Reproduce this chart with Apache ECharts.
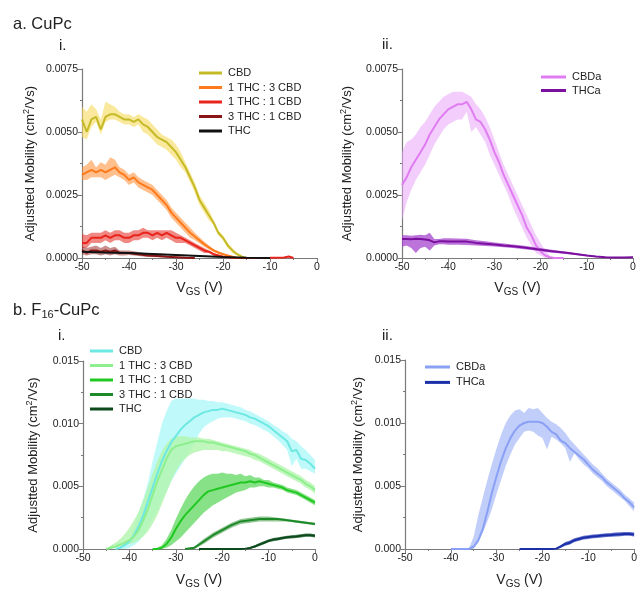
<!DOCTYPE html>
<html><head><meta charset="utf-8">
<script src="https://cdn.jsdelivr.net/npm/echarts@6/dist/echarts.min.js"></script>
<style>html,body{margin:0;padding:0;background:#fff}#c{width:640px;height:591px}</style>
</head><body><div id="c"></div>
<script>
// ---------- Panel a.i (CuPc) ----------
const A1_CBD_X = [-50,-49,-48,-47,-46,-45,-44,-43,-42,-41,-40,-39,-38,-37,-36,-35,-34,-33,-32,-31,-30,-29,-28,-27,-26,-25,-24,-23,-22,-21,-20,-19,-18,-17,-16,-15];
const A1_CBD_M = [.0055,.0050,.0055,.0056,.0051,.0056,.0057,.0057,.0056,.0055,.0055,.0054,.0055,.0053,.0052,.0050,.0048,.0047,.0046,.0044,.0042,.0039,.0036,.0032,.0028,.0023,.0020,.0017,.0014,.0010,.0008,.0005,.0003,.00015,.00005,0];
const A1_CBD_HI = [.0060,.0058,.0061,.0059,.0055,.0062,.0061,.0060,.0058,.0057,.0057,.0056,.0057,.0056,.0055,.0053,.0051,.0049,.0048,.0047,.0045,.0042,.0038,.0034,.0030,.0025,.0022,.0019,.0015,.0011,.0009,.0006,.0004,.0002,.0001,0];
const A1_CBD_LO = [.0048,.0047,.0052,.0054,.0049,.0054,.0055,.0055,.0054,.0053,.0053,.0052,.0053,.0050,.0049,.0047,.0045,.0044,.0043,.0041,.0039,.0036,.0034,.0030,.0026,.0021,.0018,.0015,.0013,.0009,.0007,.0004,.0002,.0001,0,0];

const A1_13_X = [-50,-49,-48,-47,-46,-45,-44,-43,-42,-41,-40,-39,-38,-37,-36,-35,-34,-33,-32,-31,-30,-29,-28,-27,-26,-25,-24,-23,-22,-21,-20,-19,-18,-17];
const A1_13_M = [.0033,.0034,.0035,.0034,.0035,.0034,.0035,.0036,.0034,.0033,.0031,.0032,.0030,.0029,.0028,.0027,.0025,.0023,.0021,.0018,.0016,.0014,.0012,.0010,.00085,.0007,.00055,.00042,.0003,.00022,.00015,.0001,.00005,0];
const A1_13_HI = [.0036,.0037,.0039,.0036,.0038,.0037,.0040,.0039,.0036,.0035,.0033,.0034,.0032,.0031,.0030,.0029,.0027,.0025,.0023,.0020,.0018,.0016,.0014,.0012,.0010,.00082,.00065,.0005,.00036,.00027,.00019,.00013,.00007,0];
const A1_13_LO = [.0031,.0031,.0032,.0032,.0032,.0031,.0032,.0033,.0032,.0031,.0029,.0030,.0028,.0027,.0026,.0025,.0023,.0021,.0019,.0016,.0014,.0012,.0010,.0008,.0007,.00058,.00045,.00034,.00024,.00017,.00011,.00007,.00003,0];

const A1_11_X = [-50,-49,-48,-47,-46,-45,-44,-43,-42,-41,-40,-39,-38,-37,-36,-35,-34,-33,-32,-31,-30,-29,-28,-27,-26,-25,-24,-23,-22,-21,-20,-19,-18,-17,-14,-10,-7,-6,-5];
const A1_11_M = [.0006,.0006,.0008,.0008,.0008,.0009,.0008,.0009,.0009,.0008,.0008,.0009,.0009,.0010,.0010,.0009,.0010,.0009,.0010,.0009,.0008,.0008,.0007,.0006,.0005,.0004,.0003,.00025,.00015,.0001,.00005,.00003,.00001,0,0,.00001,.00002,.00006,0];
const A1_11_HI = [.00095,.0009,.0010,.0010,.0010,.0011,.0010,.0011,.0011,.0010,.0010,.0011,.0011,.0012,.0011,.0011,.0011,.0011,.0011,.0011,.0010,.0009,.0008,.0007,.0006,.0005,.0004,.0003,.0002,.00014,.00008,.00005,.00002,0,0,.00002,.00003,.00008,0];
const A1_11_LO = [.0004,.0004,.0006,.0006,.0006,.0007,.0006,.0007,.0007,.0006,.0006,.0007,.0007,.0008,.0008,.0007,.0008,.0007,.0008,.0007,.0006,.0006,.0006,.0005,.0004,.0003,.0002,.0002,.0001,.00006,.00002,.00001,0,0,0,0,.00001,.00004,0];

const A1_31_X = [-50,-49,-48,-47,-46,-45,-44,-43,-42,-41,-40,-38,-36,-34,-32,-30,-28,-26];
const A1_31_M = [.0003,.0002,.0003,.0003,.00025,.0003,.00025,.0003,.0002,.0002,.0002,.00015,.0001,.00008,.00005,.00003,.00001,0];
const A1_31_HI = [.00045,.0004,.00045,.0005,.0004,.0005,.0004,.00045,.0003,.0003,.0003,.00024,.00017,.00013,.00009,.00006,.00003,0];
const A1_31_LO = [.00015,.0001,.00015,.00015,.0001,.00015,.0001,.00015,.0001,.0001,.00012,.00008,.00004,.00003,.00002,.00001,0,0];

const A1_THC_X = [-50,-45,-40,-35,-30,-25,-20,-15,-10];
const A1_THC_M = [.00025,.00022,.0002,.00016,.00012,.00008,.00004,.00001,0];
const A1_THC_HI = [.00028,.00025,.00023,.00019,.00014,.0001,.00006,.00002,0];
const A1_THC_LO = [.00022,.00019,.00017,.00013,.0001,.00006,.00002,0,0];

// ---------- Panel a.ii ----------
const A2_CBDA_X = [-50,-49,-48,-47,-46,-45,-44,-43,-42,-41,-40,-39,-38,-37,-36,-35,-34,-33,-32,-31,-30,-29,-28,-27,-26,-25,-24,-23,-22,-21,-20,-19,-18,-17,-16,-15];
const A2_CBDA_M = [.0029,.0032,.0036,.0039,.0042,.0045,.0049,.0052,.0055,.0057,.0059,.0060,.0061,.0061,.0062,.0059,.0055,.0054,.0051,.0047,.0042,.0038,.0033,.0029,.0025,.0021,.0017,.0012,.0009,.0005,.00026,.0001,.00003,0,0,0];
const A2_CBDA_HI = [.0042,.0046,.0047,.0049,.0052,.0054,.0057,.0060,.0062,.0064,.0065,.0066,.0066,.0066,.0065,.0064,.0061,.0059,.0056,.0052,.0047,.0042,.0037,.0033,.0029,.0025,.0021,.0017,.0013,.0009,.0006,.0003,.0001,0,0,0];
const A2_CBDA_LO = [.0015,.0022,.0027,.0031,.0034,.0037,.0041,.0045,.0048,.0051,.0053,.0054,.0055,.0055,.0058,.0050,.0052,.0049,.0046,.0041,.0037,.0033,.0029,.0025,.0020,.0016,.0012,.0008,.0005,.0002,.0001,0,0,0,0,0];

const A2_THCA_X = [-50,-49,-48,-47,-46,-45,-44,-43,-42,-41,-40,-38,-36,-34,-32,-30,-28,-26,-24,-22,-20,-18,-16,-14,-12,-10,-8,-6,-4,-2,0];
const A2_THCA_M = [.00075,.00075,.00074,.00076,.00075,.00073,.0007,.00062,.00066,.00066,.00065,.00065,.00065,.0006,.00057,.00054,.0005,.00047,.00043,.00038,.00033,.00028,.00024,.0002,.00015,.0001,.00006,.00003,.00002,.00002,.00003];
const A2_THCA_HI = [.0009,.0009,.00088,.0009,.00092,.0009,.001,.00075,.00075,.00078,.00078,.00077,.00076,.0007,.00066,.00062,.00058,.00054,.0005,.00045,.0004,.00034,.00029,.00024,.00018,.00013,.00008,.00005,.00003,.00003,.00005];
const A2_THCA_LO = [.00045,.0005,.0004,.0002,.0004,.00045,.0003,.0005,.00055,.00055,.00053,.00053,.00052,.0005,.00048,.00046,.00043,.0004,.00036,.00032,.00027,.00022,.00019,.00015,.00011,.00007,.00003,.00001,0,0,.00001];

// ---------- Panel b.i (F16-CuPc) ----------
const B1_CBD_X = [-43,-42,-41,-40,-39,-38,-37,-36,-35,-34,-33,-32,-31,-30,-29,-28,-27,-26,-25,-24,-23,-22,-21,-20,-19,-18,-17,-16,-15,-14,-13,-12,-11,-10,-9,-8,-7,-6,-5,-4,-3,-2,-1,0];
const B1_CBD_M = [0,.0001,.0003,.0006,.0011,.0018,.0027,.0038,.0049,.0060,.0070,.0078,.0085,.0090,.0095,.0099,.0102,.0105,.0107,.0109,.0110,.0111,.0111,.0112,.0111,.0110,.0109,.0108,.0107,.0105,.0104,.0102,.0100,.0098,.0095,.0092,.0089,.0086,.0078,.0079,.0072,.0071,.0068,.0064];
const B1_CBD_HI = [0,.0002,.0004,.0008,.0017,.0029,.0040,.0053,.0070,.0085,.0100,.0110,.0118,.0120,.0120,.0120,.0120,.0120,.0119,.0119,.0118,.0118,.0117,.0117,.0116,.0115,.0114,.0113,.0111,.0110,.0108,.0106,.0104,.0102,.0099,.0097,.0094,.0092,.0088,.0086,.0082,.0079,.0075,.0071];
const B1_CBD_LO = [0,0,0,.0001,.0003,.0006,.0011,.0017,.0024,.0031,.0039,.0046,.0054,.0060,.0066,.0072,.0078,.0084,.0092,.0097,.0100,.0102,.0104,.0105,.0105,.0105,.0104,.0103,.0102,.0100,.0099,.0097,.0095,.0093,.0090,.0087,.0083,.0079,.0066,.0072,.0064,.0064,.0062,.0060];

const B1_13_X = [-45,-44,-43,-42,-41,-40,-39,-38,-37,-36,-35,-34,-33,-32,-31,-30,-29,-28,-27,-26,-25,-24,-23,-22,-21,-20,-19,-18,-17,-16,-15,-14,-13,-12,-11,-10,-9,-8,-7,-6,-5,-4,-3,-2,-1,0];
const B1_13_M = [0,.0001,.0002,.00035,.0005,.0007,.0010,.0015,.0023,.0032,.0043,.0054,.0063,.0072,.0079,.0082,.0083,.0084,.0085,.0086,.0086,.0086,.0085,.0085,.0084,.0083,.0082,.0081,.0080,.0079,.0078,.0076,.0075,.0073,.0071,.0069,.0067,.0065,.0063,.0061,.0059,.0057,.0055,.0052,.0050,.0047];
const B1_13_HI = [0,.0003,.0005,.0008,.0012,.0017,.0023,.0030,.0039,.0049,.0060,.0070,.0078,.0084,.0088,.0090,.0090,.0090,.0089,.0089,.0089,.0088,.0088,.0087,.0086,.0085,.0084,.0083,.0082,.0081,.0080,.0079,.0077,.0076,.0074,.0072,.0070,.0068,.0066,.0064,.0062,.0060,.0058,.0055,.0053,.0050];
const B1_13_LO = [0,0,.0001,.0002,.0003,.0004,.0005,.0007,.0010,.0014,.0020,.0027,.0036,.0045,.0054,.0062,.0068,.0072,.0075,.0077,.0078,.0079,.0079,.0079,.0079,.0078,.0078,.0077,.0076,.0075,.0074,.0073,.0071,.0070,.0068,.0066,.0064,.0062,.0060,.0058,.0056,.0054,.0052,.0049,.0047,.0044];

const B1_11_X = [-35,-34,-33,-32,-31,-30,-29,-28,-27,-26,-25,-24,-23,-22,-21,-20,-19,-18,-17,-16,-15,-14,-13,-12,-11,-10,-9,-8,-7,-6,-5,-4,-3,-2,-1,0];
const B1_11_M = [0,0,.0001,.0004,.0009,.0016,.0022,.0027,.0031,.0035,.0039,.0043,.0046,.0047,.0048,.0049,.0050,.0051,.0052,.0053,.0053,.0054,.0053,.0054,.0053,.0052,.0051,.0050,.0049,.0047,.0046,.0045,.0043,.0041,.0039,.0037];
const B1_11_HI = [0,.0001,.0003,.0008,.0015,.0024,.0032,.0039,.0045,.0050,.0054,.0057,.0059,.0060,.0060,.0061,.0060,.0060,.0059,.0060,.0058,.0059,.0057,.0057,.0055,.0055,.0053,.0052,.0051,.0049,.0048,.0047,.0045,.0043,.0041,.0039];
const B1_11_LO = [0,0,0,.0001,.0003,.0006,.0009,.0013,.0017,.0021,.0025,.0029,.0032,.0035,.0037,.0039,.0041,.0043,.0045,.0046,.0047,.0049,.0049,.0050,.0050,.0049,.0049,.0048,.0047,.0045,.0044,.0043,.0041,.0039,.0037,.0035];

const B1_31_X = [-28,-26,-24,-22,-20,-18,-16,-14,-12,-10,-8,-6,-4,-2,0];
const B1_31_M = [0,.0001,.0006,.0011,.0015,.0019,.0022,.0023,.0024,.0024,.0024,.0023,.0022,.0021,.0020];
const B1_31_HI = [0,.0002,.0008,.0013,.0017,.0021,.0024,.0025,.0026,.0026,.0025,.0024,.0023,.0022,.0021];
const B1_31_LO = [0,0,.0004,.0009,.0013,.0017,.0020,.0021,.0022,.0022,.0022,.0022,.0021,.0020,.0019];

const B1_THC_X = [-25,-20,-16,-15,-14,-13,-12,-11,-10,-9,-8,-7,-6,-5,-4,-3,-2,-1,0];
const B1_THC_M = [0,0,0,.00003,.00008,.0002,.00035,.0005,.00065,.00075,.0008,.00088,.00093,.00097,.001,.00105,.0011,.0011,.00105];
const B1_THC_HI = [0,0,0,.00006,.00015,.0003,.00047,.00062,.00077,.00088,.00093,.001,.00105,.0011,.00113,.00118,.00123,.00123,.00118];
const B1_THC_LO = [0,0,0,0,.00003,.0001,.00023,.00038,.00053,.00062,.00067,.00076,.00081,.00084,.00087,.00092,.00097,.00097,.00092];

// ---------- Panel b.ii ----------
const B2_CBDA_X = [-40,-37,-36,-35,-34,-33,-32,-31,-30,-29,-28,-27,-26,-25,-24,-23,-22,-21,-20,-19,-18,-17,-16,-15,-14,-13,-12,-11,-10,-9,-8,-7,-6,-5,-4,-3,-2,-1,0];
const B2_CBDA_M = [0,0,0,.0002,.0007,.0016,.0030,.0045,.0058,.0070,.0080,.0088,.0094,.0098,.0100,.0101,.0101,.0101,.0100,.0097,.0093,.0091,.0086,.0084,.0080,.0077,.0074,.0071,.0067,.0063,.0060,.0057,.0053,.0050,.0047,.0044,.0040,.0037,.0033];
const B2_CBDA_HI = [0,0,.0001,.0010,.0027,.0041,.0055,.0068,.0080,.0091,.0100,.0106,.0110,.0111,.0108,.0112,.0111,.0112,.0108,.0104,.0101,.0099,.0096,.0092,.0087,.0083,.0079,.0075,.0071,.0067,.0064,.0060,.0056,.0053,.0050,.0047,.0043,.0040,.0037];
const B2_CBDA_LO = [0,0,0,0,.0005,.0013,.0022,.0032,.0044,.0055,.0066,.0075,.0083,.0088,.0093,.0094,.0093,.0090,.0088,.0079,.0089,.0087,.0084,.0080,.0069,.0076,.0071,.0067,.0064,.0060,.0057,.0054,.0050,.0047,.0044,.0041,.0038,.0034,.0030];

const B2_THCA_X = [-25,-18,-17,-16,-15,-14,-13,-12,-11,-10,-9,-8,-7,-6,-5,-4,-3,-2,-1,0];
const B2_THCA_M = [0,0,.00003,.0002,.0004,.0005,.0007,.0008,.0009,.00095,.001,.00103,.00107,.0011,.00112,.00115,.00117,.0012,.0012,.00115];
const B2_THCA_HI = [0,0,.00006,.0003,.00055,.00068,.00085,.00096,.00105,.0011,.00115,.00118,.00122,.00125,.00127,.0013,.00132,.00134,.00134,.0013];
const B2_THCA_LO = [0,0,0,.0001,.00025,.00035,.00055,.00065,.00075,.0008,.00085,.00088,.00092,.00095,.00097,.001,.00102,.00105,.00105,.001];

// axis ticks
const X_MIN = -50, X_MAX = 0, X_STEP = 10;
const YA_MAX = 0.0075, YA_STEP = 0.0025;
const YB_MAX = 0.015, YB_STEP = 0.005;

const FONT = '"Liberation Sans", Arial, Helvetica, sans-serif';
const AX = '#7a7a7a';

// series definitions: [panel, legend name, x, mean, lo, hi, line color, band color]
const SERIES = [
  [0,'CBD',A1_CBD_X,A1_CBD_M,A1_CBD_LO,A1_CBD_HI,'#c4ba26','rgba(246,218,90,0.6)'],
  [0,'1 THC : 3 CBD',A1_13_X,A1_13_M,A1_13_LO,A1_13_HI,'#ff7a1c','rgba(255,140,50,0.55)'],
  [0,'1 THC : 1 CBD',A1_11_X,A1_11_M,A1_11_LO,A1_11_HI,'#e8241c','rgba(228,40,30,0.55)'],
  [0,'3 THC : 1 CBD',A1_31_X,A1_31_M,A1_31_LO,A1_31_HI,'#8b1414','rgba(150,30,30,0.5)'],
  [0,'THC',A1_THC_X,A1_THC_M,A1_THC_LO,A1_THC_HI,'#111111','rgba(70,70,70,0.45)'],
  [1,'CBDa',A2_CBDA_X,A2_CBDA_M,A2_CBDA_LO,A2_CBDA_HI,'#e07cf2','rgba(234,165,250,0.55)'],
  [1,'THCa',A2_THCA_X,A2_THCA_M,A2_THCA_LO,A2_THCA_HI,'#7b0f9e','rgba(165,70,205,0.75)'],
  [2,'CBD',B1_CBD_X,B1_CBD_M,B1_CBD_LO,B1_CBD_HI,'#6ee8e2','rgba(165,246,246,0.7)'],
  [2,'1 THC : 3 CBD',B1_13_X,B1_13_M,B1_13_LO,B1_13_HI,'#8eef8e','rgba(178,245,172,0.8)'],
  [2,'1 THC : 1 CBD',B1_11_X,B1_11_M,B1_11_LO,B1_11_HI,'#22c822','rgba(95,215,95,0.75)'],
  [2,'3 THC : 1 CBD',B1_31_X,B1_31_M,B1_31_LO,B1_31_HI,'#1d8a2a','rgba(60,150,60,0.55)'],
  [2,'THC',B1_THC_X,B1_THC_M,B1_THC_LO,B1_THC_HI,'#0c4a1c','rgba(20,90,40,0.7)'],
  [3,'CBDa',B2_CBDA_X,B2_CBDA_M,B2_CBDA_LO,B2_CBDA_HI,'#8aa0f4','rgba(160,180,248,0.65)'],
  [3,'THCa',B2_THCA_X,B2_THCA_M,B2_THCA_LO,B2_THCA_HI,'#1a2fa8','rgba(30,50,180,0.7)']
];

const GRIDS = [
  {left:82, top:69, width:235, height:189},
  {left:402, top:69, width:231, height:189},
  {left:83, top:361, width:232, height:188},
  {left:405, top:360, width:232, height:189}
];
const Y_NAME_GAP = [44, 47, 42, 39];
const X_NAME_GAP = [21, 21, 22, 22];

const xAxes = GRIDS.map((g,i)=>({
  type:'value', gridIndex:i, min:X_MIN, max:X_MAX, interval:X_STEP,
  axisLine:{show:true, onZero:false, lineStyle:{color:AX, width:1.2}},
  axisTick:{show:true, inside:false, length:4, lineStyle:{color:AX}},
  minorTick:{show:true, splitNumber:2, length:2, lineStyle:{color:AX}},
  splitLine:{show:false},
  axisLabel:{fontSize:10.5, color:'#222', fontFamily:FONT, margin:4},
  name:'{v|V}{s|GS}{v| (V)}', nameLocation:'middle', nameGap:X_NAME_GAP[i],
  nameTextStyle:{fontFamily:FONT, color:'#222', rich:{
    v:{fontSize:14, lineHeight:18, fontFamily:FONT, color:'#222'},
    s:{fontSize:10, lineHeight:10, verticalAlign:'bottom', fontFamily:FONT, color:'#222'}}}
}));
const yAxes = GRIDS.map((g,i)=>{
  const isA = i<2;
  return {
    type:'value', gridIndex:i, min:0, max:isA?YA_MAX:YB_MAX, interval:isA?YA_STEP:YB_STEP,
    position:'left',
    axisLine:{show:true, onZero:false, lineStyle:{color:AX, width:1.2}},
    axisTick:{show:true, inside:false, length:4, lineStyle:{color:AX}},
    minorTick:{show:true, splitNumber:2, length:2, lineStyle:{color:AX}},
    splitLine:{show:false},
    axisLabel:{fontSize:10.5, color:'#222', fontFamily:FONT, margin:4,
      formatter:v=>v.toFixed(isA?4:3)},
    name:'Adjustted Mobility (cm{sup|2}/Vs)', nameLocation:'middle', nameRotate:90, nameGap:Y_NAME_GAP[i],
    nameTextStyle:{fontSize:13, lineHeight:16, fontFamily:FONT, color:'#222', rich:{
      sup:{fontSize:9, lineHeight:9, verticalAlign:'top', fontFamily:FONT, color:'#222'}}}
  };
});

const series = [];
SERIES.forEach(([p,name,xs,m,lo,hi,lc,bc])=>{
  series.push({
    type:'custom', name:'band'+p+name, xAxisIndex:p, yAxisIndex:p, silent:true, clip:true,
    data:[[xs[0], lo[0]]], encode:{x:0, y:1},
    renderItem:(params, api)=>{
      const pts=[];
      for(let i=0;i<xs.length;i++) pts.push(api.coord([xs[i], hi[i]]));
      for(let i=xs.length-1;i>=0;i--) pts.push(api.coord([xs[i], lo[i]]));
      return {type:'polygon', shape:{points:pts}, style:{fill:bc}};
    }
  });
  series.push({
    type:'line', name:p+'|'+name, xAxisIndex:p, yAxisIndex:p, silent:true,
    data: xs.map((x,i)=>[x, m[i]]), symbol:'none', showSymbol:false,
    lineStyle:{color:lc, width:2}, itemStyle:{color:lc}
  });
});

function legend(p, left, top, gap, iw){
  return {
    data: SERIES.filter(s=>s[0]===p).map(s=>p+'|'+s[1]),
    orient:'vertical', left, top, itemGap:gap, itemWidth:iw, itemHeight:3, icon:'rect',
    selectedMode:false, padding:0,
    formatter:n=>n.split('|')[1],
    textStyle:{fontSize:11, lineHeight:12, color:'#222', fontFamily:FONT, padding:[0,0,0,1]}
  };
}

function label(text, x, y, size, rich){
  return {type:'text', x, y, silent:true, style:{text, fontSize:size, fontFamily:FONT, fill:'#222',
    align:'left', verticalAlign:'middle', rich:rich||undefined, lineHeight:size+4}};
}

const chart = echarts.init(document.getElementById('c'), null, {renderer:'canvas'});
chart.setOption({
  animation:false,
  backgroundColor:'#fff',
  grid: GRIDS,
  xAxis: xAxes,
  yAxis: yAxes,
  legend: [legend(0,199,67,2.5,23), legend(1,541,71,1.5,25), legend(2,90,345,2.5,23), legend(3,425,361,3.4,25)],
  graphic: [
    label('a. CuPc', 13, 24, 16.5),
    label('i.', 59, 46, 15),
    label('ii.', 382, 45, 15),
    label('b. F{s|16}-CuPc', 13, 310, 16.5, {s:{fontSize:11, lineHeight:11, verticalAlign:'bottom', fontFamily:FONT, fill:'#222'}}),
    label('i.', 58, 336, 15),
    label('ii.', 382, 336, 15)
  ],
  series
});
</script>
</body></html>
